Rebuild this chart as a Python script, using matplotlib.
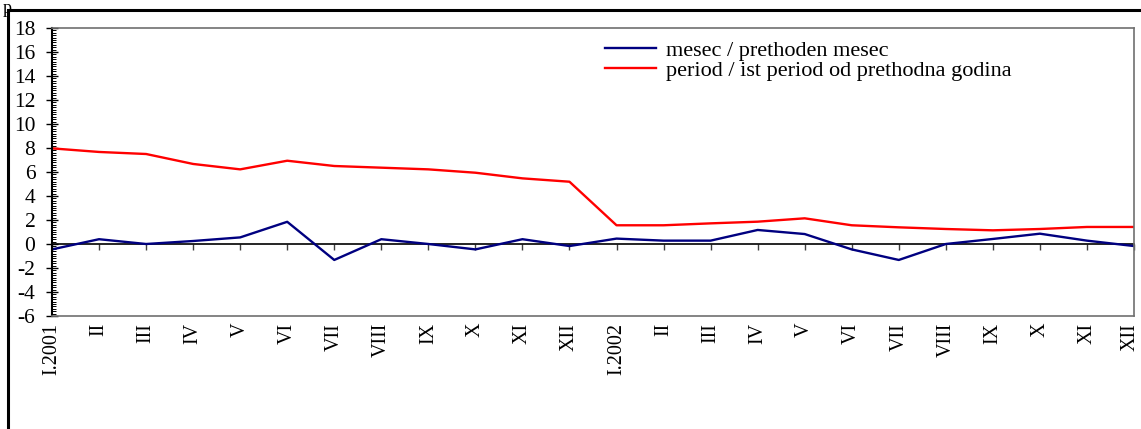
import matplotlib
matplotlib.use("Agg")
import matplotlib.pyplot as plt
from matplotlib.patches import Rectangle
from matplotlib.ticker import MultipleLocator
from matplotlib.transforms import ScaledTranslation

plt.rcParams['font.family'] = ['Liberation Serif', 'DejaVu Serif']
plt.rcParams['axes.unicode_minus'] = False

# month labels, 2001-2002
months = ["I.2001", "II", "III", "IV", "V", "VI", "VII", "VIII", "IX", "X", "XI", "XII",
          "I.2002", "II", "III", "IV", "V", "VI", "VII", "VIII", "IX", "X", "XI", "XII"]

# month / previous month
mesec = [-0.45, 0.4, 0.0, 0.25, 0.55, 1.85, -1.33, 0.4, 0.0, -0.45, 0.4, -0.17,
         0.45, 0.28, 0.28, 1.17, 0.83, -0.45, -1.33, 0.0, 0.42, 0.86, 0.28, -0.17]

# period / same period of previous year
period = [7.97, 7.67, 7.5, 6.67, 6.22, 6.94, 6.5, 6.36, 6.22, 5.94, 5.47, 5.19,
          1.56, 1.56, 1.72, 1.86, 2.14, 1.56, 1.39, 1.25, 1.14, 1.25, 1.42, 1.42]

W, H = 1141, 429
fig = plt.figure(figsize=(W / 100, H / 100), dpi=100)
ax = fig.add_axes([52 / W, 1 - 316 / H, (1134 - 52) / W, (316 - 28) / H])

x = list(range(len(months)))
ax.plot(x, mesec, color='#000080', lw=1.7, label='mesec / prethoden mesec')
ax.plot(x, period, color='#FF0000', lw=1.7, label='period / ist period od prethodna godina')

ax.set_xlim(0, len(months) - 1)
ax.set_ylim(-6, 18)

# y axis
ax.yaxis.set_major_locator(MultipleLocator(2))
ax.yaxis.set_minor_locator(MultipleLocator(0.2))
ax.tick_params(axis='y', which='major', direction='inout', length=8, width=1, pad=8, labelsize=15.5)
ax.tick_params(axis='y', which='minor', direction='in', length=3, width=0.7)

# x labels under the -6 line
ax.set_xticks(x)
labels = ax.set_xticklabels(months, rotation=90, va='top', ha='center')
ax.tick_params(axis='x', length=0, pad=5, labelsize=14.5)
# nudge the last label so it stays inside the image
labels[-1].set_transform(labels[-1].get_transform() + ScaledTranslation(-4 / 100, 0, fig.dpi_scale_trans))

for side in ['top', 'right', 'bottom']:
    ax.spines[side].set_color('#707070')
    ax.spines[side].set_linewidth(1.2)
ax.spines['left'].set_linewidth(1.5)

# zero line with category ticks
sec = ax.secondary_xaxis(0.25)
sec.set_xticks(x)
sec.set_xticklabels([])
sec.tick_params(direction='out', length=4, width=1, color='#404040')
sec.spines['bottom'].set_linewidth(1.2)

leg = ax.legend(loc='upper left', bbox_to_anchor=(605 / W, 1 - 40 / H),
                bbox_transform=fig.transFigure, frameon=False, fontsize=16,
                handlelength=2.3, handletextpad=0.45, labelspacing=0.0,
                borderaxespad=0, borderpad=0)

# outer frame (right side runs past the image edge)
fig.add_artist(Rectangle((8 / W, -0.02), 1.0, 1.02 - 10 / H,
                         transform=fig.transFigure, fill=False, lw=2.2, color='black'))
fig.text(3 / W, 1.0, 'p', fontsize=13, va='top', ha='left')

fig.savefig('out.png', dpi=100)
